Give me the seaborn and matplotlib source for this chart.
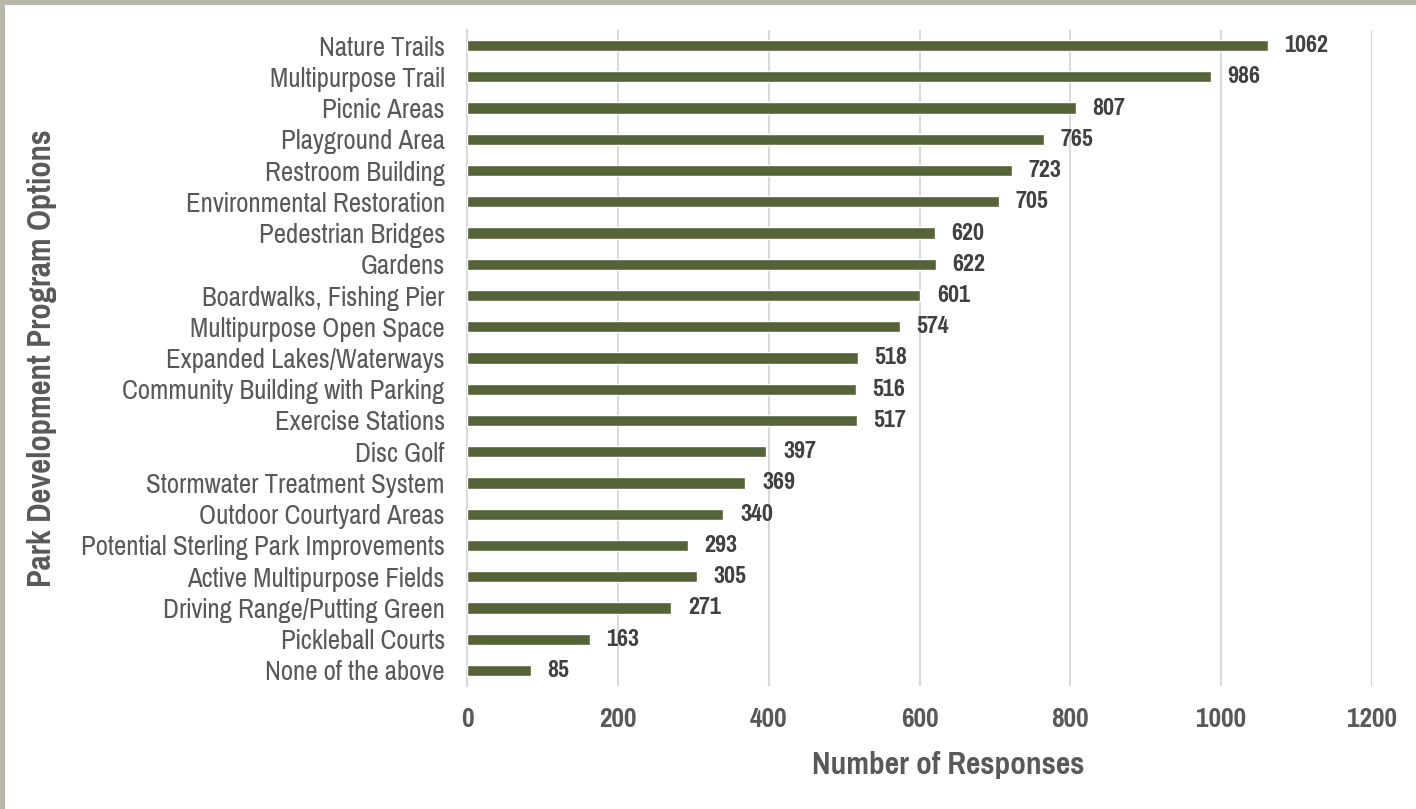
import matplotlib
matplotlib.use("Agg")
import matplotlib.pyplot as plt
from matplotlib.patches import Rectangle
from matplotlib import font_manager
import seaborn as sns
import pandas as pd

options = [
    "Nature Trails", "Multipurpose Trail", "Picnic Areas", "Playground Area",
    "Restroom Building", "Environmental Restoration", "Pedestrian Bridges",
    "Gardens", "Boardwalks, Fishing Pier", "Multipurpose Open Space",
    "Expanded Lakes/Waterways", "Community Building with Parking",
    "Exercise Stations", "Disc Golf", "Stormwater Treatment System",
    "Outdoor Courtyard Areas", "Potential Sterling Park Improvements",
    "Active Multipurpose Fields", "Driving Range/Putting Green",
    "Pickleball Courts", "None of the above",
]
responses = [1062, 986, 807, 765, 723, 705, 620, 622, 601, 574, 518, 516,
             517, 397, 369, 340, 293, 305, 271, 163, 85]
x_ticks = [0, 200, 400, 600, 800, 1000, 1200]

sns.set_theme(style="white")
installed = {f.name for f in font_manager.fontManager.ttflist}
narrow = [n for n in ["Liberation Sans Narrow", "Pragati Narrow", "Roboto Condensed",
                      "Archivo Narrow", "PT Sans Narrow", "Liberation Sans"]
          if n in installed]
plt.rcParams["font.family"] = narrow[:1] + ["DejaVu Sans"]

df = pd.DataFrame({"option": options, "responses": responses})

fig = plt.figure(figsize=(14.16, 8.09), dpi=100, facecolor="#b9b6ac")
fig.patches.append(Rectangle((5 / 1416, 0), 1, 1 - 5 / 809, transform=fig.transFigure,
                             facecolor="white", edgecolor="none", zorder=-10))
ax = fig.add_axes([467 / 1416, 1 - 686 / 809, (1372 - 467) / 1416, (686 - 30) / 809])
ax.set_facecolor("none")

sns.barplot(data=df, x="responses", y="option", orient="h", color="#556339",
            width=0.36, saturation=1, ax=ax, zorder=3)

for i, v in enumerate(responses):
    ax.text(v + 22, i, str(v), va="center", ha="left", fontsize=18.8,
            fontweight="bold", color="#404040")

ax.set_xlim(0, 1200)
ax.set_ylim(20.5, -0.5)
ax.set_xticks(x_ticks)
ax.set_xticklabels([str(t) for t in x_ticks], fontsize=21.5, fontweight="bold", color="#595959")
ax.tick_params(axis="x", length=0, pad=15)
ax.tick_params(axis="y", length=0, pad=16, labelsize=21, labelcolor="#595959")
ax.grid(axis="x", color="#d9d9d9", linewidth=1.5, zorder=0)
for s in ["top", "right", "bottom"]:
    ax.spines[s].set_visible(False)
ax.spines["left"].set_color("#d9d9d9")
ax.spines["left"].set_linewidth(1.5)

ax.set_xlabel("Number of Responses", fontsize=24.5, fontweight="bold", color="#595959", labelpad=14)
ax.xaxis.label.set_x(0.532)
ax.set_ylabel("")
fig.text(42 / 1416, 1 - 358 / 809, "Park Development Program Options", rotation=90,
         ha="center", va="center", fontsize=25.5, fontweight="bold", color="#595959")

fig.savefig("out.png", dpi=100, facecolor=fig.get_facecolor())
